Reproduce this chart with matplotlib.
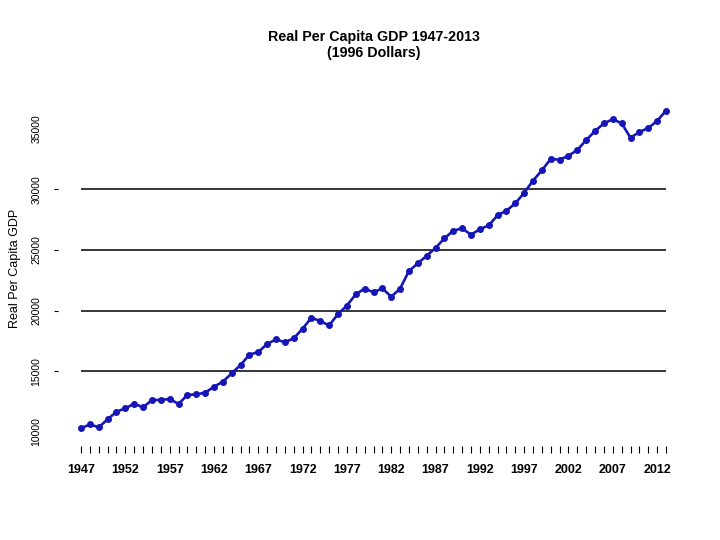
from matplotlib import pyplot as plt
import numpy as np

plt.rcParams['font.family'] = ['Liberation Sans', 'DejaVu Sans']

# real per capita GDP, 1996 dollars
years = list(range(1947, 2014))
gdp = [10300, 10630, 10380, 11050, 11670, 11950, 12330, 12030, 12640, 12640,
       12720, 12310, 13050, 13100, 13240, 13730, 14140, 14830, 15520, 16370,
       16590, 17250, 17630, 17390, 17720, 18510, 19420, 19120, 18790, 19720,
       20420, 21340, 21810, 21510, 21830, 21140, 21810, 23260, 23890, 24520,
       25160, 25950, 26580, 26780, 26250, 26700, 27020, 27850, 28230, 28830,
       29710, 30700, 31560, 32490, 32430, 32760, 33230, 34050, 34790, 35430,
       35760, 35430, 34240, 34710, 35040, 35620, 36470]

grid_levels = [15000, 20000, 25000, 30000]
y_ticks = [10000, 15000, 20000, 25000, 30000, 35000]
x_labels = list(range(1947, 2014, 5))

fig = plt.figure(figsize=(7.2, 5.4), dpi=100)
ax = fig.add_axes([58 / 720, 94 / 540, 631 / 720, 346 / 540])

ax.hlines(grid_levels, years[0], years[-1], colors='black', linewidth=1.1)
ax.plot(years, gdp, '-o', color='#1616b8', linewidth=1.9, markersize=4)

ax.set_xlim(1944.4, 2015.6)
ax.set_ylim(8847, 37348)

for s in ax.spines.values():
    s.set_visible(False)

ax.set_xticks(years)
ax.set_xticklabels([str(y) if y in x_labels else '' for y in years],
                   fontsize=9, fontweight='bold')
ax.tick_params(axis='x', length=5, width=0.8, pad=8)

ax.set_yticks(y_ticks)
ax.set_yticklabels([str(v) for v in y_ticks], rotation=90, va='center', fontsize=7.5)
ax.tick_params(axis='y', length=3, width=0.8, pad=9)
for t in ax.yaxis.get_major_ticks():
    if t.get_loc() in (10000, 35000):
        t.tick1line.set_visible(False)

fig.text(15 / 720, 1 - 268 / 540, 'Real Per Capita GDP', rotation=90,
         ha='center', va='center', fontsize=9)
fig.text(374 / 720, 1 - 45 / 540, 'Real Per Capita GDP 1947-2013\n(1996 Dollars)',
         ha='center', va='center', fontsize=10.3, fontweight='bold', linespacing=1.1)

fig.savefig('out.png', dpi=100)
